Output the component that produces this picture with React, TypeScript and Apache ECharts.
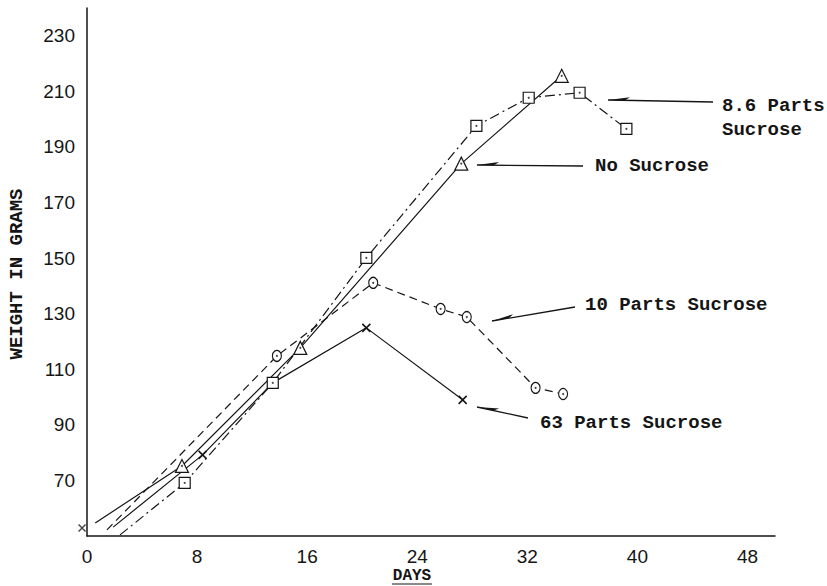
import React, { useEffect, useRef } from "react";
import * as echarts from "echarts";

// ---- data (days, grams) ----
const xTickLabels = [0, 8, 16, 24, 32, 40, 48];
const yTickLabels = [70, 90, 110, 130, 150, 170, 190, 210, 230];

const noSucroseStart = [0.6, 54.7];
const noSucrose = [
  [6.9, 75.2],
  [15.5, 117.7],
  [27.2, 184.0],
  [34.5, 215.6],
];

const parts86Start = [2.4, 50.4];
const parts86 = [
  [7.1, 69.1],
  [13.5, 105.1],
  [20.3, 150.1],
  [28.3, 197.6],
  [32.1, 207.7],
  [35.8, 209.5],
  [39.2, 196.5],
];

const parts10Start = [1.45, 52.2];
const parts10 = [
  [13.8, 114.8],
  [20.8, 141.1],
  [25.7, 131.7],
  [27.6, 128.8],
  [32.6, 103.3],
  [34.6, 101.1],
];

const parts63Lone = [[-0.36, 52.9]];
const parts63Start = [1.9, 53.2];
const parts63 = [
  [8.4, 79.2],
  [13.5, 105.1],
  [20.3, 124.9],
  [27.3, 99.0],
];
// index in parts63 of the point hidden under the 8.6-parts square
const parts63HiddenIdx = [1];

const labels = [
  { text: "8.6 Parts", x: 722, y: 106 },
  { text: "Sucrose", x: 722, y: 130 },
  { text: "No Sucrose", x: 595, y: 166 },
  { text: "10 Parts Sucrose", x: 585, y: 305 },
  { text: "63 Parts Sucrose", x: 540, y: 423 },
];

const arrows = [
  { from: [713, 102], to: [608, 100] },
  { from: [583, 166], to: [477, 165] },
  { from: [575, 307], to: [492, 321] },
  { from: [528, 418], to: [477, 407] },
];

const INK = "#151515";
const X_PATH = "path://M0,0L10,10M10,0L0,10";

function lineSeries(
  name: string,
  start: number[],
  pts: number[][],
  symbol: string,
  size: any,
  type: any,
  hidden: number[] = []
) {
  return {
    type: "line",
    name,
    silent: true,
    data: [
      { value: start, symbol: "none" },
      ...pts.map((p, i) => (hidden.includes(i) ? { value: p, symbol: "none" } : { value: p })),
    ],
    symbol,
    symbolSize: size,
    showSymbol: true,
    showAllSymbol: true,
    lineStyle: { color: INK, width: 1.2, type },
    itemStyle: {
      color: symbol === X_PATH ? "none" : "#fff",
      borderColor: INK,
      borderWidth: symbol === X_PATH ? 1.6 : 1.2,
    },
    z: 2,
  };
}

function arrowGraphics() {
  const out: any[] = [];
  arrows.forEach((a) => {
    const [fx, fy] = a.from;
    const [tx, ty] = a.to;
    const len = Math.hypot(fx - tx, fy - ty);
    const dx = (fx - tx) / len;
    const dy = (fy - ty) / len;
    let px = dy, py = -dx;
    if (py > 0) { px = -px; py = -py; }
    out.push({
      type: "line",
      shape: { x1: fx, y1: fy, x2: tx, y2: ty },
      style: { stroke: INK, lineWidth: 1.3 },
      silent: true,
    });
    out.push({
      type: "polygon",
      shape: {
        points: [
          [tx, ty],
          [tx + dx * 22 + px * 3.2, ty + dy * 22 + py * 3.2],
          [tx + dx * 17, ty + dy * 17],
        ],
      },
      style: { fill: INK },
      silent: true,
    });
  });
  return out;
}

export default function App() {
  const ref = useRef<HTMLDivElement>(null);
  useEffect(() => {
    if (!ref.current) return;
    const chart = echarts.init(ref.current, null, { renderer: "svg" });
    const labelFont = { fontFamily: "Liberation Sans", fontSize: 19, color: INK };
    const typeFont = { fontFamily: "Liberation Mono", fontWeight: "bold", fontSize: 19, fill: INK };
    chart.setOption({
      animation: false,
      backgroundColor: "#ffffff",
      grid: { left: 87, right: 52, top: 8, bottom: 50 },
      xAxis: {
        type: "value",
        min: 0,
        max: 50,
        interval: 8,
        axisLine: { show: true, onZero: false, lineStyle: { color: INK, width: 1.5 } },
        axisTick: { show: false },
        splitLine: { show: false },
        axisLabel: {
          ...labelFont,
          lineHeight: 16,
          margin: 12,
          formatter: (v: number) => (xTickLabels.includes(v) ? String(v) : ""),
        },
      },
      yAxis: {
        type: "value",
        min: 50,
        max: 240,
        interval: 20,
        axisLine: { show: true, onZero: false, lineStyle: { color: INK, width: 1.5 } },
        axisTick: { show: false },
        splitLine: { show: false },
        axisLabel: {
          ...labelFont,
          margin: 12,
          formatter: (v: number) => (yTickLabels.includes(v) ? String(v) : ""),
        },
      },
      series: [
        lineSeries("No Sucrose", noSucroseStart, noSucrose, "triangle", 13, "solid"),
        lineSeries("8.6 Parts Sucrose", parts86Start, parts86, "rect", 11, [10, 4, 2, 4]),
        lineSeries("10 Parts Sucrose", parts10Start, parts10, "circle", [9, 11], [8, 5]),
        lineSeries("63 Parts Sucrose", parts63Start, parts63, X_PATH, 8, "solid", parts63HiddenIdx),
        {
          type: "scatter",
          silent: true,
          clip: false,
          data: parts63Lone,
          symbol: X_PATH,
          symbolSize: 7,
          itemStyle: { color: "none", borderColor: INK, borderWidth: 1.4 },
        },
        {
          type: "scatter",
          silent: true,
          data: [...noSucrose, ...parts86, ...parts10],
          symbol: "circle",
          symbolSize: 2,
          itemStyle: { color: INK },
          z: 5,
        },
      ],
      graphic: [
        ...labels.map((l) => ({
          type: "text",
          x: l.x,
          y: l.y,
          style: { text: l.text, ...typeFont, align: "left", verticalAlign: "middle" },
          silent: true,
        })),
        {
          type: "text",
          x: 17,
          y: 274,
          rotation: Math.PI / 2,
          style: { text: "WEIGHT IN GRAMS", ...typeFont, align: "center", verticalAlign: "middle" },
          silent: true,
        },
        {
          type: "text",
          x: 412,
          y: 576,
          style: {
            text: "DAYS",
            ...typeFont,
            fontSize: 16,
            lineHeight: 16,
            align: "center",
            verticalAlign: "middle",
          },
          silent: true,
        },
        {
          type: "line",
          shape: { x1: 392, y1: 584, x2: 432, y2: 584 },
          style: { stroke: INK, lineWidth: 1.2 },
          silent: true,
        },
        ...arrowGraphics(),
      ],
    });
    return () => chart.dispose();
  }, []);
  return (
    <div
      ref={ref}
      style={{ position: "fixed", left: 0, top: 0, width: 827, height: 586, background: "#fff" }}
    />
  );
}
